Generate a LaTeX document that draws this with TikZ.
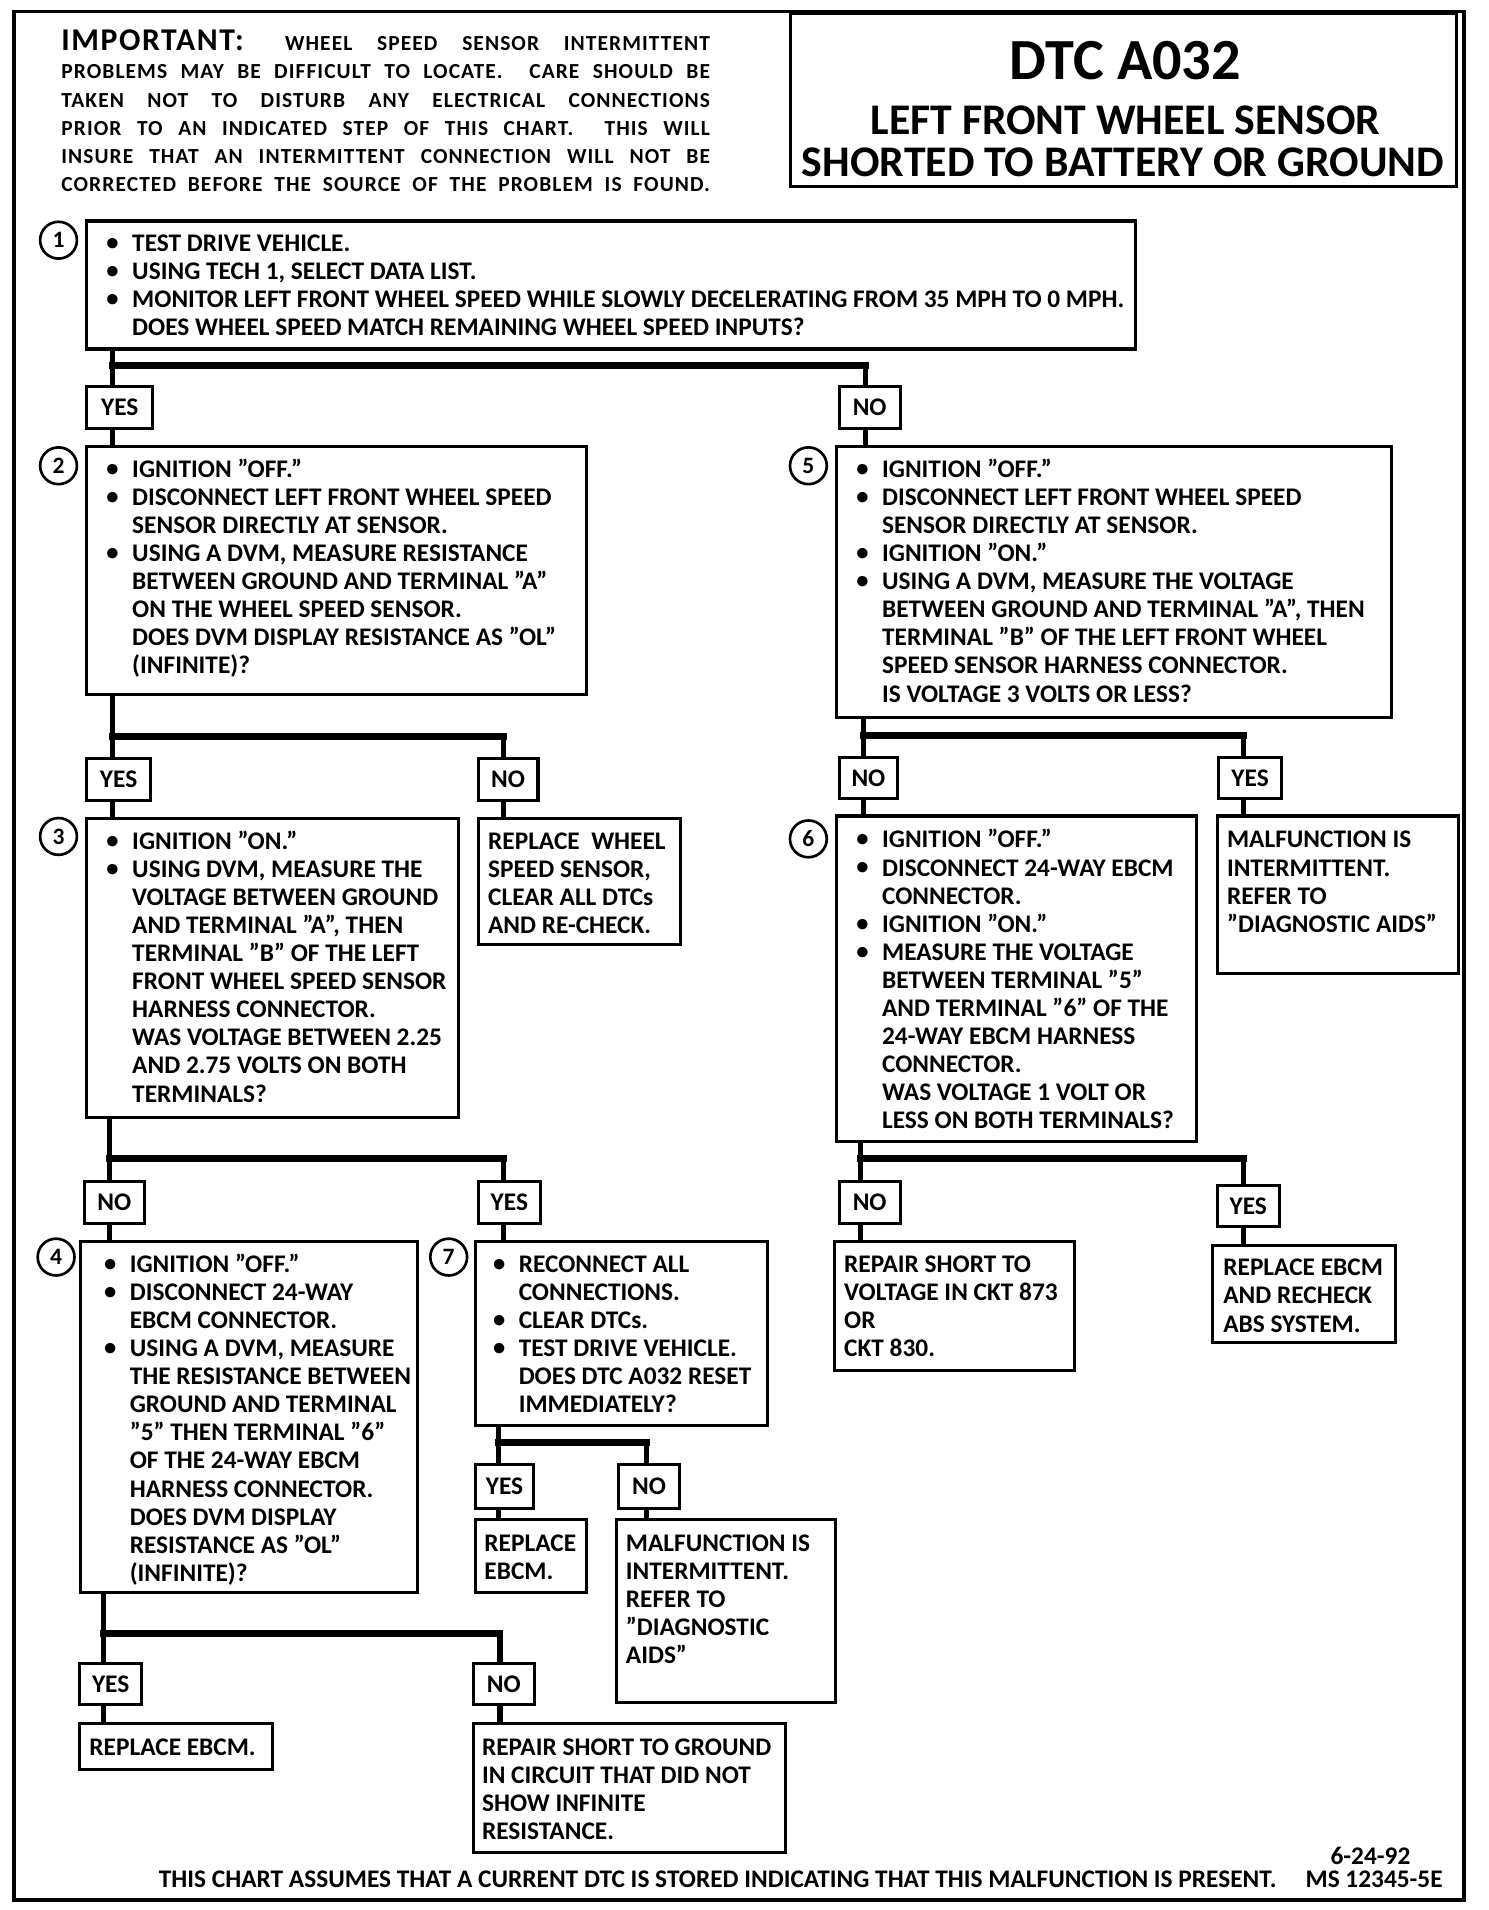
\documentclass[tikz,border=0pt]{standalone}
\usepackage{fontspec}
\setmainfont{Carlito}
\newfontfamily\impf{Carlito}[LetterSpace=5]
\usetikzlibrary{calc}
\newcommand\bodyf{\bfseries\fontsize{12.4}{13.75}\selectfont}
\newcommand\bu{\makebox[12.6pt][l]{\raisebox{0.5pt}{\fontsize{12}{12}\selectfont\textbullet}}}
\newcommand\ii{\hspace*{12.6pt}}
\newcommand\fs{\rule{0pt}{10pt}}
\newcommand\br[7]{%
  \draw[vl] (#1.south -| #2) -- (#2) -- (#4.north -| #2) (#4.south -| #2) -- (#6.north -| #2)
            (#3) -- (#5.north -| #3) (#5.south -| #3) -- (#7.north -| #3);
  \draw[bar] (#2) -- (#3);}
\begin{document}
\begin{tikzpicture}[x=0.5965pt,y=-0.5965pt,
  bx/.style n args={2}{draw, line width=1.5pt, inner sep=0pt, anchor=north west,
     minimum width=#1*0.5965pt, minimum height=#2*0.5965pt},
  yn/.style n args={2}{draw, line width=1.5pt, inner sep=0pt, anchor=north west,
     minimum width=#1*0.5965pt, minimum height=#2*0.5965pt, font=\bodyf},
  num/.style={draw, circle, line width=1.3pt, minimum size=18pt, inner sep=0pt,
     font=\bfseries\fontsize{11.5}{11.5}\selectfont},
  txt/.style={anchor=north west, inner sep=0pt, align=left, font=\bodyf},
  vl/.style={line width=2.6pt},
  bar/.style={line width=3.5pt, line cap=rect}]
\useasboundingbox (0,0) rectangle (1220.45,1566.5);
\fill[white] (0,0) rectangle (1220.45,1566.5);

% frame and header
\node[bx={1189}{1549}, line width=1.8pt] (frame) at (10,8) {};
\node[bx={546}{142}] (title) at (647,10) {};
\node[font=\bfseries\fontsize{28.5}{28.5}\selectfont, inner sep=0pt] (t1) at (923,50) {DTC A032};
\node[font=\bfseries\fontsize{21.4}{21.4}\selectfont, inner sep=0pt] (t2) at (923,99) {LEFT FRONT WHEEL SENSOR};
\node[font=\bfseries\fontsize{21.4}{21.4}\selectfont, inner sep=0pt] (t3) at (921,133) {SHORTED TO BATTERY OR GROUND};
\node[txt, font=\impf\bfseries\fontsize{10.5}{13.75}\selectfont] (imp) at (50,24.3) {%
\fs\makebox[317.3pt][s]{{\fontsize{15.5}{13.75}\selectfont IMPORTANT:}\hspace{8pt} WHEEL SPEED SENSOR INTERMITTENT}\\
\makebox[317.3pt][s]{PROBLEMS MAY BE DIFFICULT TO LOCATE. \ CARE SHOULD BE}\\
\makebox[317.3pt][s]{TAKEN NOT TO DISTURB ANY ELECTRICAL CONNECTIONS}\\
\makebox[317.3pt][s]{PRIOR TO AN INDICATED STEP OF THIS CHART. \ THIS WILL}\\
\makebox[317.3pt][s]{INSURE THAT AN INTERMITTENT CONNECTION WILL NOT BE}\\
\makebox[317.3pt][s]{CORRECTED BEFORE THE SOURCE OF THE PROBLEM IS FOUND.}};

% step boxes
\node[bx={860}{105}] (s1) at (70,180) {};
\node[bx={410}{203}] (s2) at (70,365) {};
\node[bx={455}{222}] (s5) at (685,365) {};
\node[bx={305}{245}] (s3) at (70,670) {};
\node[bx={166}{103}] (r1) at (391,670) {};
\node[bx={295}{267}] (s6) at (685,668) {};
\node[bx={198}{129}] (m1) at (997,668) {};
\node[bx={276}{288}] (s4) at (65,1017) {};
\node[bx={239}{151}] (s7) at (389,1017) {};
\node[bx={197}{106}] (r2) at (683,1017) {};
\node[bx={150}{80}] (r3) at (993,1020) {};
\node[bx={91}{60}] (r4) at (389,1245) {};
\node[bx={180}{150}] (m2) at (504,1245) {};
\node[bx={158}{38}] (r5) at (64,1412) {};
\node[bx={256}{106}] (r6) at (387,1412) {};

% step numbers
\node[num] (k1) at (48,197) {1};
\node[num] (k2) at (48,382) {2};
\node[num] (k5) at (663,382) {5};
\node[num] (k3) at (48,686) {3};
\node[num] (k6) at (663,688) {6};
\node[num] (k4) at (46,1031) {4};
\node[num] (k7) at (368,1031) {7};

% texts
\node[txt] (s1t) at (87,189.3) {\fs\bu TEST DRIVE VEHICLE.\\
\bu USING TECH 1, SELECT DATA LIST.\\
\bu MONITOR LEFT FRONT WHEEL SPEED WHILE SLOWLY DECELERATING FROM 35 MPH TO 0 MPH.\\
\ii DOES WHEEL SPEED MATCH REMAINING WHEEL SPEED INPUTS?};
\node[txt] (s2t) at (87,374.3) {\fs\bu IGNITION "OFF."\\
\bu DISCONNECT LEFT FRONT WHEEL SPEED\\
\ii SENSOR DIRECTLY AT SENSOR.\\
\bu USING A DVM, MEASURE RESISTANCE\\
\ii BETWEEN GROUND AND TERMINAL "A"\\
\ii ON THE WHEEL SPEED SENSOR.\\
\ii DOES DVM DISPLAY RESISTANCE AS "OL"\\
\ii (INFINITE)?};
\node[txt] (s5t) at (702,374.3) {\fs\bu IGNITION "OFF."\\
\bu DISCONNECT LEFT FRONT WHEEL SPEED\\
\ii SENSOR DIRECTLY AT SENSOR.\\
\bu IGNITION "ON."\\
\bu USING A DVM, MEASURE THE VOLTAGE\\
\ii BETWEEN GROUND AND TERMINAL "A", THEN\\
\ii TERMINAL "B" OF THE LEFT FRONT WHEEL\\
\ii SPEED SENSOR HARNESS CONNECTOR.\\
\ii IS VOLTAGE 3 VOLTS OR LESS?};
\node[txt] (s3t) at (87,679.3) {\fs\bu IGNITION "ON."\\
\bu USING DVM, MEASURE THE\\
\ii VOLTAGE BETWEEN GROUND\\
\ii AND TERMINAL "A", THEN\\
\ii TERMINAL "B" OF THE LEFT\\
\ii FRONT WHEEL SPEED SENSOR\\
\ii HARNESS CONNECTOR.\\
\ii WAS VOLTAGE BETWEEN 2.25\\
\ii AND 2.75 VOLTS ON BOTH\\
\ii TERMINALS?};
\node[txt] (r1t) at (400,679.3) {\fs REPLACE \ WHEEL\\
SPEED SENSOR,\\
CLEAR ALL DTCs\\
AND RE-CHECK.};
\node[txt] (s6t) at (702,678.3) {\fs\bu IGNITION "OFF."\\
\bu DISCONNECT 24-WAY EBCM\\
\ii CONNECTOR.\\
\bu IGNITION "ON."\\
\bu MEASURE THE VOLTAGE\\
\ii BETWEEN TERMINAL "5"\\
\ii AND TERMINAL "6" OF THE\\
\ii 24-WAY EBCM HARNESS\\
\ii CONNECTOR.\\
\ii WAS VOLTAGE 1 VOLT OR\\
\ii LESS ON BOTH TERMINALS?};
\node[txt] (m1t) at (1006,678.3) {\fs MALFUNCTION IS\\
INTERMITTENT.\\
REFER TO\\
"DIAGNOSTIC AIDS"};
\node[txt] (s4t) at (85,1026.3) {\fs\bu IGNITION "OFF."\\
\bu DISCONNECT 24-WAY\\
\ii EBCM CONNECTOR.\\
\bu USING A DVM, MEASURE\\
\ii THE RESISTANCE BETWEEN\\
\ii GROUND AND TERMINAL\\
\ii "5" THEN TERMINAL "6"\\
\ii OF THE 24-WAY EBCM\\
\ii HARNESS CONNECTOR.\\
\ii DOES DVM DISPLAY\\
\ii RESISTANCE AS "OL"\\
\ii (INFINITE)?};
\node[txt] (s7t) at (404,1026.3) {\fs\bu RECONNECT ALL\\
\ii CONNECTIONS.\\
\bu CLEAR DTCs.\\
\bu TEST DRIVE VEHICLE.\\
\ii DOES DTC A032 RESET\\
\ii IMMEDIATELY?};
\node[txt] (r2t) at (692,1026.3) {\fs REPAIR SHORT TO\\
VOLTAGE IN CKT 873\\
OR\\
CKT 830.};
\node[txt] (r3t) at (1003,1029.3) {\fs REPLACE EBCM\\
AND RECHECK\\
ABS SYSTEM.};
\node[txt] (r4t) at (397,1255.3) {\fs REPLACE\\
EBCM.};
\node[txt] (m2t) at (513,1255.3) {\fs MALFUNCTION IS\\
INTERMITTENT.\\
REFER TO\\
"DIAGNOSTIC\\
AIDS"};
\node[txt] (r5t) at (73,1422.3) {\fs REPLACE EBCM.};
\node[txt] (r6t) at (395,1422.3) {\fs REPAIR SHORT TO GROUND\\
IN CIRCUIT THAT DID NOT\\
SHOW INFINITE\\
RESISTANCE.};

% yes/no boxes
\node[yn={54}{34}] (y1) at (70,316) {YES};
\node[yn={50}{34}] (n1) at (687,316) {NO};
\node[yn={52}{34}] (y2) at (70,621) {YES};
\node[yn={49}{34}] (n2) at (391,621) {NO};
\node[yn={48}{34}] (n3) at (687,620) {NO};
\node[yn={52}{34}] (y3) at (998,620) {YES};
\node[yn={49}{34}] (n4) at (68,968) {NO};
\node[yn={51}{34}] (y4) at (391,968) {YES};
\node[yn={50}{34}] (n5) at (687,968) {NO};
\node[yn={51}{34}] (y5) at (997,971) {YES};
\node[yn={47}{36}] (y6) at (389,1200) {YES};
\node[yn={50}{36}] (n6) at (506,1200) {NO};
\node[yn={51}{34}] (y7) at (64,1363) {YES};
\node[yn={50}{34}] (n7) at (387,1363) {NO};

% junction points
\coordinate (a1) at (92,300);  \coordinate (a2) at (710,300);
\coordinate (b1) at (92,604);  \coordinate (b2) at (413,604);
\coordinate (c1) at (708,603); \coordinate (c2) at (1020,603);
\coordinate (d1) at (90,950);  \coordinate (d2) at (413,950);
\coordinate (e1) at (706,950); \coordinate (e2) at (1020,950);
\coordinate (f1) at (409,1183); \coordinate (f2) at (530,1183);
\coordinate (g1) at (85,1340); \coordinate (g2) at (410,1340);

\br{s1}{a1}{a2}{y1}{n1}{s2}{s5}
\br{s2}{b1}{b2}{y2}{n2}{s3}{r1}
\br{s5}{c1}{c2}{n3}{y3}{s6}{m1}
\br{s3}{d1}{d2}{n4}{y4}{s4}{s7}
\br{s6}{e1}{e2}{n5}{y5}{r2}{r3}
\br{s7}{f1}{f2}{y6}{n6}{r4}{m2}
\br{s4}{g1}{g2}{y7}{n7}{r5}{r6}

% footer
\node[anchor=base west, inner sep=0pt, font=\bodyf] (foot) at (130,1548) {THIS CHART ASSUMES THAT A CURRENT DTC IS STORED INDICATING THAT THIS MALFUNCTION IS PRESENT.};
\node[anchor=base, inner sep=0pt, font=\bodyf] (date) at (1124,1529) {6-24-92};
\node[anchor=base, inner sep=0pt, font=\bodyf] (ms) at (1127,1548) {MS 12345-5E};
\end{tikzpicture}
\end{document}
